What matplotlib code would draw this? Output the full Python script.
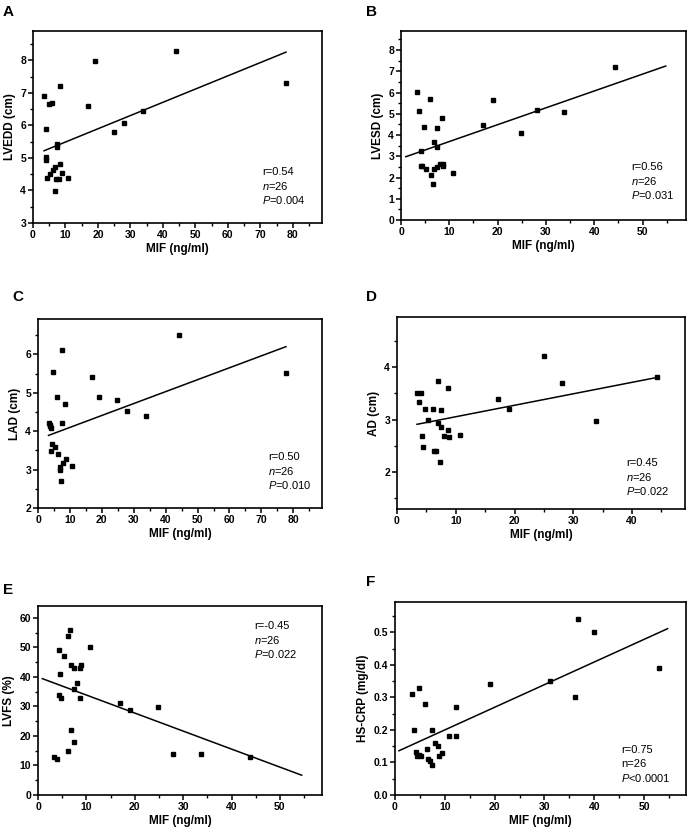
import numpy as np
import matplotlib
matplotlib.use('Agg')
import matplotlib.pyplot as plt
from matplotlib.ticker import MultipleLocator, FormatStrFormatter

plt.rcParams['font.family'] = ['Liberation Sans', 'DejaVu Sans']
plt.rcParams['mathtext.fontset'] = 'custom'
plt.rcParams['mathtext.rm'] = 'Liberation Sans'
plt.rcParams['mathtext.it'] = 'Liberation Sans:italic'

# A: LVEDD
mif_a = [3.4, 3.9, 4.1, 4.1, 4.4, 4.8, 6.0, 5.3, 6.2, 6.7, 6.7, 7.0, 7.5, 7.5, 8.0,
         8.4, 8.4, 8.8, 10.8, 17.0, 19.1, 25.0, 28.1, 34.0, 44.1, 77.8]
lvedd = [6.89, 5.88, 5.03, 4.95, 4.38, 6.65, 6.70, 4.50, 4.62, 4.72, 3.99, 4.34, 5.44, 5.34, 4.34,
         7.20, 4.80, 4.53, 4.39, 6.60, 7.97, 5.79, 6.08, 6.44, 8.30, 7.30]
fit_a_x = [3.4, 77.9]
fit_a_y = [5.22, 8.25]

# B: LVESD
mif_b = [3.4, 3.8, 4.2, 4.2, 4.4, 4.7, 5.2, 6.0, 6.3, 6.6, 6.9, 6.8, 7.4, 7.5, 7.5,
         8.0, 8.5, 8.6, 8.7, 10.7, 17.0, 19.1, 24.9, 28.1, 33.8, 44.2]
lvesd = [6.01, 5.14, 3.26, 2.55, 2.55, 4.39, 2.38, 5.69, 2.10, 1.69, 3.68, 2.38, 4.34, 3.45, 2.51,
         2.63, 4.78, 2.66, 2.54, 2.19, 4.48, 5.65, 4.11, 5.19, 5.08, 7.20]
fit_b_x = [1.0, 54.8]
fit_b_y = [2.98, 7.25]

# C: LAD
mif_c = [3.3, 3.8, 3.9, 4.2, 4.1, 4.4, 4.8, 5.2, 6.0, 6.3, 6.8, 7.0, 7.3, 7.4, 7.5,
         7.9, 8.6, 8.8, 10.7, 17.0, 19.1, 24.8, 27.9, 33.8, 44.1, 77.7]
lad = [4.20, 4.14, 4.16, 4.09, 3.49, 3.66, 5.55, 3.60, 4.89, 3.40, 2.99, 3.06, 2.69, 4.22, 6.12,
       3.17, 4.70, 3.28, 3.09, 5.40, 4.90, 4.80, 4.52, 4.40, 6.50, 5.51]
fit_c_x = [3.3, 77.7]
fit_c_y = [3.89, 6.20]

# D: AD
mif_d = [3.4, 4.1, 3.8, 4.2, 4.4, 4.8, 5.2, 6.1, 6.3, 6.6, 6.9, 6.9, 7.3, 7.5, 7.5,
         8.0, 8.6, 8.6, 8.8, 10.8, 17.1, 19.1, 25.0, 28.1, 33.9, 44.2]
ad = [3.50, 3.50, 3.34, 2.68, 2.47, 3.20, 3.00, 3.20, 2.41, 2.41, 3.73, 2.93, 2.20, 3.19, 2.86,
      2.68, 3.60, 2.80, 2.66, 2.70, 3.40, 3.20, 4.21, 3.70, 2.98, 3.80]
fit_d_x = [3.4, 44.2]
fit_d_y = [2.91, 3.80]

# E: LVFS
mif_e = [3.4, 3.85, 4.3, 4.3, 4.5, 4.8, 5.3, 6.1, 6.3, 6.6, 6.9, 6.9, 7.4, 7.5, 7.5,
         8.0, 8.6, 8.7, 8.8, 10.8, 17.0, 19.1, 24.9, 28.0, 33.7, 43.9]
lvfs = [13.0, 12.1, 49.0, 34.0, 41.0, 33.0, 46.9, 15.0, 53.9, 55.9, 43.9, 21.9, 43.0, 35.9, 17.9,
        37.9, 33.0, 43.0, 43.9, 50.0, 31.0, 28.9, 29.9, 13.9, 13.9, 13.0]
fit_e_x = [0.9, 54.5]
fit_e_y = [39.4, 6.7]

# F: HS-CRP
mif_f = [3.5, 3.8, 4.2, 4.4, 4.8, 4.8, 5.3, 6.1, 6.4, 6.6, 7.1, 7.5, 7.5, 8.0, 8.6,
         8.9, 9.5, 10.8, 12.2, 12.2, 19.1, 31.2, 36.1, 36.7, 39.9, 53.0]
crp = [0.311, 0.201, 0.132, 0.121, 0.330, 0.122, 0.121, 0.281, 0.141, 0.111, 0.103, 0.201, 0.093,
       0.161, 0.151, 0.120, 0.130, 0.181, 0.270, 0.181, 0.341, 0.351, 0.300, 0.540, 0.500, 0.391]
fit_f_x = [0.8, 54.7]
fit_f_y = [0.136, 0.511]

W, H = 689, 833
fig = plt.figure(figsize=(W / 100, H / 100), dpi=100)


def make_ax(left, right, top, bottom):
    return fig.add_axes([left / W, 1 - bottom / H, (right - left) / W, (bottom - top) / H])


def style(ax, xlim, ylim, xmaj, ymaj, ylabel, yfmt=None):
    ax.set_xlim(*xlim)
    ax.set_ylim(*ylim)
    ax.xaxis.set_major_locator(MultipleLocator(xmaj))
    ax.xaxis.set_minor_locator(MultipleLocator(xmaj / 2))
    ax.yaxis.set_major_locator(MultipleLocator(ymaj))
    ax.yaxis.set_minor_locator(MultipleLocator(ymaj / 2))
    if yfmt:
        ax.yaxis.set_major_formatter(FormatStrFormatter(yfmt))
    ax.tick_params(which='major', direction='out', length=3.5, width=1.1, labelsize=7.5, pad=1.5)
    ax.tick_params(which='minor', direction='out', length=2.5, width=1.0)
    for lab in ax.get_xticklabels() + ax.get_yticklabels():
        lab.set_fontweight('bold')
    for sp in ax.spines.values():
        sp.set_linewidth(1.2)
    ax.set_xlabel('MIF (ng/ml)', fontsize=8.5, fontweight='bold', labelpad=2)
    ax.set_ylabel(ylabel, fontsize=8.5, fontweight='bold', labelpad=3)


def stats(x, y, lines):
    for i, s in enumerate(lines):
        fig.text(x / W, 1 - (y + i * 14) / H, s, fontsize=8, va='center', ha='left')


def letter(x, y, s):
    fig.text(x / W, 1 - y / H, s, fontsize=11, fontweight='bold', va='center', ha='left')


panels = [
    (33, 322, 31, 223, mif_a, lvedd, fit_a_x, fit_a_y, (0, 89), (3, 8.9), 10, 1, 'LVEDD (cm)', None,
     (262, 172), ['r=0.54', r'$\it{n}$=26', r'$\it{P}$=0.004'], (3, 12), 'A'),
    (401, 686, 31, 220, mif_b, lvesd, fit_b_x, fit_b_y, (0, 59), (0, 8.9), 10, 1, 'LVESD (cm)', None,
     (631, 167), ['r=0.56', r'$\it{n}$=26', r'$\it{P}$=0.031'], (366, 12), 'B'),
    (38, 322, 319, 508, mif_c, lad, fit_c_x, fit_c_y, (0, 89), (2, 6.92), 10, 1, 'LAD (cm)', None,
     (268, 457), ['r=0.50', r'$\it{n}$=26', r'$\it{P}$=0.010'], (12, 297), 'C'),
    (397, 685, 317, 509, mif_d, ad, fit_d_x, fit_d_y, (0, 49), (1.3, 4.95), 10, 1, 'AD (cm)', None,
     (626, 463), ['r=0.45', r'$\it{n}$=26', r'$\it{P}$=0.022'], (366, 297), 'D'),
    (38, 322, 606, 795, mif_e, lvfs, fit_e_x, fit_e_y, (0, 58.7), (0, 64), 10, 10, 'LVFS (%)', None,
     (254, 626), ['r=-0.45', r'$\it{n}$=26', r'$\it{P}$=0.022'], (3, 590), 'E'),
    (395, 686, 602, 795, mif_f, crp, fit_f_x, fit_f_y, (0, 58.4), (0, 0.593), 10, 0.1, 'HS-CRP (mg/dl)', '%.1f',
     (621, 750), ['r=0.75', 'n=26', r'$\it{P}$<0.0001'], (366, 582), 'F'),
]

for (l, r, t, b, xs, ys, fx, fy, xlim, ylim, xmaj, ymaj, ylab, yfmt, spos, slines, lpos, let) in panels:
    ax = make_ax(l, r, t, b)
    ax.plot(xs, ys, 's', color='black', markersize=3.0, linestyle='none')
    ax.plot(fx, fy, '-', color='black', linewidth=1.1)
    style(ax, xlim, ylim, xmaj, ymaj, ylab, yfmt)
    stats(spos[0], spos[1], slines)
    letter(lpos[0], lpos[1], let)

plt.savefig('out.png', dpi=100)
